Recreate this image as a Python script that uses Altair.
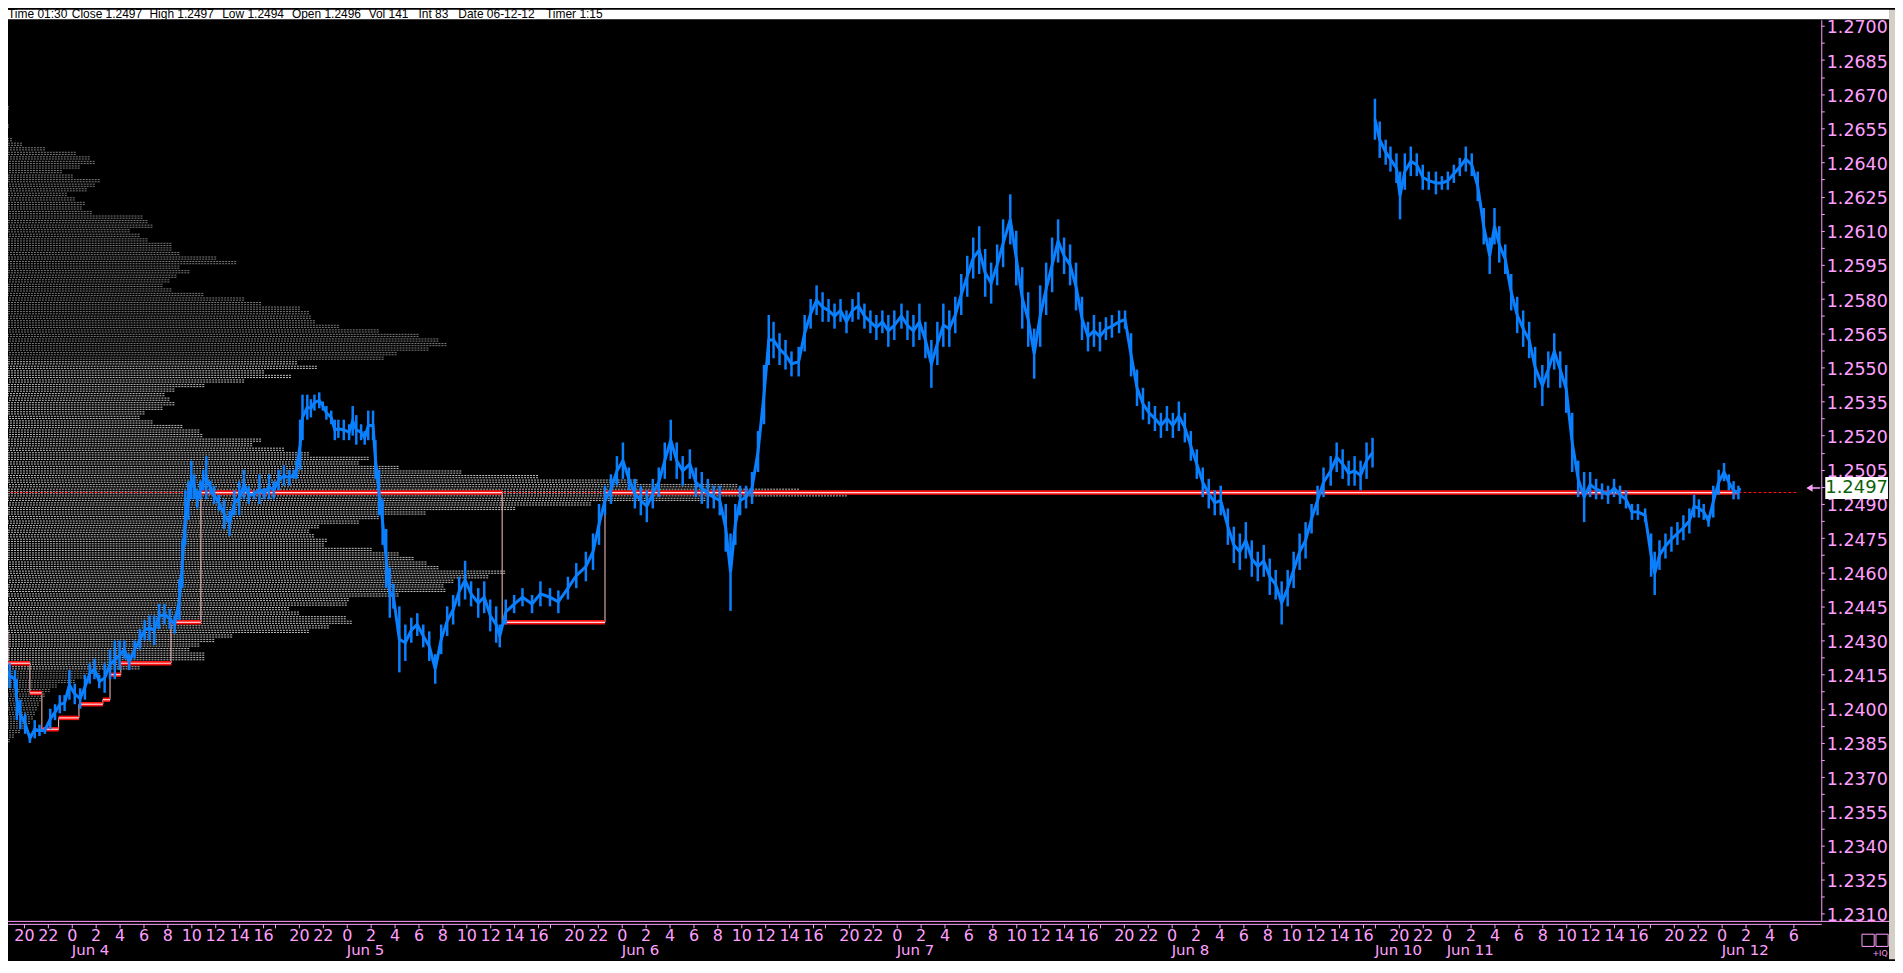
import json
import altair as alt
import pandas as pd

# ------------------------------------------------------------------ data
# price series: bar position in session hours (17:00-18:00 break removed), low / high
price_t = [0.2,0.4,0.8,1.25,1.4,1.7,2.1,2.5,2.9,3.3,3.75,4.2,4.6,5.0,5.4,5.8,6.25,6.7,7.1,7.5,7.9,8.3,8.75,9.2,9.6,10.0,10.4,10.8,11.25,11.7,12.1,12.5,12.9,13.3,13.75,14.2,14.6,15.0,15.25,15.5,15.75,16.0,16.25,16.5,16.75,17.0,17.25,17.6,17.9,18.3,18.75,19.2,19.6,20.0,20.4,20.8,21.25,21.7,22.1,22.5,22.9,23.3,23.75,24.2,24.6,24.8,25.1,25.3,25.7,26.0,26.3,26.7,27.0,27.3,27.7,28.0,28.3,28.75,29.2,29.5,29.8,30.2,30.5,30.8,31.2,31.4,31.7,32.0,32.3,32.6,32.9,33.4,33.9,34.4,34.9,35.4,35.9,36.4,36.9,37.4,37.9,38.4,38.9,39.4,40.0,40.5,41.0,41.5,41.8,42.3,43.0,43.7,44.5,45.2,46.0,46.7,47.5,48.2,49.0,49.6,50.1,50.6,51.1,51.6,52.1,52.6,53.1,53.6,54.1,54.6,55.1,55.6,56.1,56.6,57.1,57.7,58.2,58.7,59.2,59.7,60.2,60.7,61.1,61.5,61.9,62.4,62.9,63.4,63.9,64.3,64.7,65.2,65.7,66.2,66.8,67.3,67.8,68.3,68.8,69.3,69.8,70.3,70.8,71.3,71.8,72.3,72.8,73.3,73.8,74.3,74.8,75.4,75.9,76.4,76.9,77.4,77.9,78.4,78.9,79.4,79.9,80.4,80.9,81.4,81.9,82.4,82.9,83.4,83.9,84.5,85.0,85.5,86.0,86.5,87.0,87.5,88.0,88.5,89.0,89.5,90.0,90.5,91.0,91.5,92.0,92.5,93.0,93.6,94.1,94.6,95.1,95.6,96.1,96.6,97.1,97.6,98.1,98.6,99.1,99.6,100.1,100.6,101.1,101.6,102.1,102.7,103.2,103.7,104.2,104.7,105.2,105.7,106.2,106.7,107.2,107.7,108.2,108.7,109.2,109.7,110.2,110.7,111.3,111.8,112.3,112.8,113.3,113.8,114.3,114.8,115.0,115.4,115.9,116.3,116.8,117.1,117.5,118.0,118.5,119.0,119.5,120.1,120.6,121.1,121.6,122.1,122.6,123.1,123.6,124.1,124.6,125.0,125.4,125.9,126.4,126.9,127.4,127.9,128.4,129.0,129.5,130.0,130.5,131.0,131.5,132.0,132.5,133.0,133.5,134.0,134.5,135.0,135.5,136.0,136.5,137.0,137.6,138.1,138.4,138.8,139.3,139.8,140.3,140.8,141.3,141.7,142.1,142.5,142.9,143.3,143.75,144.2,144.6,145.0,145.4,145.5]
price_lo = [1.2418,1.2413,1.2409,1.2409,1.2395,1.2391,1.2389,1.2385,1.2387,1.2388,1.2389,1.2391,1.2395,1.2398,1.2399,1.2404,1.2402,1.2400,1.2404,1.2411,1.2413,1.2409,1.2407,1.2413,1.2413,1.2417,1.2422,1.2417,1.2422,1.2426,1.2430,1.2430,1.2428,1.2435,1.2437,1.2435,1.2433,1.2439,1.2453,1.2472,1.2483,1.2492,1.2492,1.2488,1.2492,1.2496,1.2492,1.2494,1.2490,1.2487,1.2479,1.2476,1.2485,1.2485,1.2492,1.2490,1.2492,1.2490,1.2492,1.2492,1.2492,1.2496,1.2498,1.2498,1.2501,1.2501,1.2505,1.2518,1.2527,1.2528,1.2531,1.2532,1.2531,1.2527,1.2525,1.2518,1.2519,1.2518,1.2518,1.2520,1.2516,1.2518,1.2516,1.2518,1.2518,1.2501,1.2485,1.2472,1.2453,1.2440,1.2444,1.2416,1.2421,1.2429,1.2432,1.2427,1.2421,1.2411,1.2424,1.2432,1.2437,1.2445,1.2448,1.2445,1.2440,1.2442,1.2434,1.2429,1.2427,1.2437,1.2442,1.2445,1.2442,1.2445,1.2445,1.2442,1.2448,1.2453,1.2456,1.2461,1.2472,1.2485,1.2490,1.2498,1.2501,1.2496,1.2488,1.2485,1.2482,1.2488,1.2493,1.2501,1.2509,1.2501,1.2498,1.2501,1.2493,1.2490,1.2488,1.2488,1.2485,1.2469,1.2443,1.2472,1.2485,1.2488,1.2490,1.2504,1.2525,1.2551,1.2554,1.2551,1.2549,1.2546,1.2546,1.2557,1.2567,1.2573,1.2570,1.2570,1.2567,1.2570,1.2565,1.2570,1.2571,1.2567,1.2565,1.2562,1.2565,1.2559,1.2562,1.2567,1.2562,1.2559,1.2562,1.2554,1.2541,1.2551,1.2559,1.2559,1.2565,1.2573,1.2581,1.2589,1.2591,1.2581,1.2578,1.2586,1.2594,1.2604,1.2586,1.2567,1.2559,1.2545,1.2559,1.2573,1.2583,1.2596,1.2591,1.2586,1.2575,1.2562,1.2557,1.2559,1.2557,1.2562,1.2563,1.2565,1.2567,1.2546,1.2533,1.2527,1.2525,1.2522,1.2519,1.2522,1.2519,1.2522,1.2517,1.2509,1.2501,1.2493,1.2488,1.2485,1.2485,1.2472,1.2464,1.2461,1.2466,1.2458,1.2456,1.2458,1.2450,1.2448,1.2437,1.2445,1.2453,1.2461,1.2466,1.2477,1.2485,1.2493,1.2498,1.2504,1.2501,1.2498,1.2498,1.2496,1.2501,1.2506,1.2650,1.2642,1.2639,1.2636,1.2631,1.2615,1.2628,1.2634,1.2634,1.2628,1.2628,1.2626,1.2628,1.2628,1.2631,1.2634,1.2636,1.2634,1.2623,1.2604,1.2591,1.2604,1.2596,1.2591,1.2575,1.2565,1.2559,1.2554,1.2541,1.2533,1.2541,1.2549,1.2541,1.2530,1.2504,1.2493,1.2482,1.2493,1.2492,1.2492,1.2490,1.2493,1.2490,1.2488,1.2483,1.2483,1.2482,1.2458,1.2450,1.2461,1.2466,1.2469,1.2472,1.2474,1.2477,1.2484,1.2484,1.2483,1.2480,1.2484,1.2494,1.2500,1.2496,1.2492,1.2492,1.2496]
price_hi = [1.2435,1.2423,1.2420,1.2417,1.2413,1.2404,1.2398,1.2389,1.2395,1.2393,1.2392,1.2400,1.2402,1.2406,1.2406,1.2417,1.2411,1.2409,1.2415,1.2420,1.2422,1.2415,1.2420,1.2426,1.2430,1.2430,1.2430,1.2424,1.2430,1.2435,1.2439,1.2441,1.2441,1.2446,1.2446,1.2444,1.2441,1.2457,1.2474,1.2496,1.2500,1.2509,1.2503,1.2496,1.2500,1.2505,1.2511,1.2500,1.2498,1.2494,1.2492,1.2487,1.2496,1.2500,1.2505,1.2498,1.2496,1.2503,1.2497,1.2503,1.2500,1.2505,1.2507,1.2505,1.2505,1.2509,1.2527,1.2538,1.2538,1.2536,1.2538,1.2539,1.2535,1.2533,1.2531,1.2527,1.2527,1.2527,1.2525,1.2533,1.2529,1.2525,1.2522,1.2531,1.2531,1.2518,1.2505,1.2492,1.2479,1.2462,1.2455,1.2445,1.2437,1.2440,1.2442,1.2437,1.2434,1.2424,1.2437,1.2445,1.2450,1.2458,1.2465,1.2456,1.2453,1.2456,1.2448,1.2445,1.2437,1.2448,1.2450,1.2453,1.2450,1.2456,1.2453,1.2452,1.2458,1.2464,1.2469,1.2477,1.2490,1.2498,1.2503,1.2511,1.2517,1.2506,1.2501,1.2498,1.2496,1.2501,1.2506,1.2517,1.2527,1.2517,1.2511,1.2514,1.2506,1.2504,1.2501,1.2498,1.2498,1.2490,1.2477,1.2490,1.2498,1.2498,1.2504,1.2522,1.2551,1.2573,1.2570,1.2565,1.2562,1.2557,1.2559,1.2573,1.2580,1.2586,1.2583,1.2580,1.2578,1.2580,1.2575,1.2580,1.2583,1.2578,1.2575,1.2573,1.2575,1.2573,1.2575,1.2578,1.2575,1.2573,1.2578,1.2570,1.2562,1.2570,1.2578,1.2575,1.2581,1.2591,1.2599,1.2607,1.2612,1.2602,1.2596,1.2604,1.2615,1.2626,1.2610,1.2594,1.2583,1.2567,1.2586,1.2596,1.2607,1.2615,1.2607,1.2604,1.2596,1.2581,1.2570,1.2573,1.2570,1.2572,1.2573,1.2575,1.2575,1.2565,1.2549,1.2541,1.2535,1.2533,1.2530,1.2533,1.2530,1.2535,1.2530,1.2522,1.2514,1.2506,1.2501,1.2496,1.2498,1.2488,1.2480,1.2477,1.2482,1.2474,1.2469,1.2472,1.2466,1.2461,1.2456,1.2461,1.2469,1.2477,1.2482,1.2490,1.2498,1.2506,1.2511,1.2517,1.2514,1.2509,1.2511,1.2509,1.2517,1.2519,1.2668,1.2658,1.2650,1.2647,1.2644,1.2636,1.2644,1.2647,1.2644,1.2639,1.2636,1.2636,1.2634,1.2636,1.2639,1.2642,1.2647,1.2644,1.2636,1.2620,1.2607,1.2620,1.2612,1.2604,1.2591,1.2581,1.2575,1.2570,1.2559,1.2551,1.2557,1.2565,1.2557,1.2551,1.2530,1.2509,1.2504,1.2504,1.2501,1.2499,1.2498,1.2501,1.2498,1.2496,1.2490,1.2490,1.2488,1.2477,1.2469,1.2474,1.2477,1.2480,1.2482,1.2485,1.2488,1.2494,1.2492,1.2490,1.2485,1.2498,1.2505,1.2508,1.2503,1.2500,1.2498,1.2497]
WEEKEND_BREAK = 114.9

# volume profile (relative volume per 0.0002 price level, from 1.2386 upward)
profile_start = 1.2386
profile_step = 0.0002
profile_vol = [10,14,20,27,30,33,35,37,39,41,
               45,50,57,75,85,100,140,172,205,205,
               190,200,215,233,310,330,353,347,300,290,
               348,350,400,447,445,455,490,507,440,428,
               415,400,373,325,328,315,310,320,360,380,
               427,517,593,708,850,802,740,640,540,463,
               400,360,370,310,285,253,262,203,200,183,
               153,140,145,163,175,170,165,175,205,245,
               292,265,318,298,385,398,430,448,440,420,
               380,340,316,312,310,301,262,245,204,172,
               163,170,177,190,180,237,217,180,172,172,
               148,140,130,153,148,143,92,82,85,75,
               67,87,95,100,73,62,80,95,90,76,
               45,22,12,7,6,9,5,8,6,9,
               5,4]
VA_LOW, VA_HIGH = 1.2417, 1.2553

# point of control steps
poc_start = [0.0, 0.67, 2.5, 3.5, 4.9, 6.6, 8.6, 9.2, 10.1, 14.3, 16.8, 42.0, 50.6]
poc_end   = [0.67, 2.5, 3.5, 4.9, 6.6, 8.6, 9.2, 10.1, 14.3, 16.8, 42.0, 50.6, 145.4]
poc_price = [1.2434, 1.2420, 1.2407, 1.2391, 1.2396, 1.2402, 1.2404, 1.2415, 1.2420, 1.2438, 1.2495, 1.2438, 1.2495]
poc_ext = {"x0": 0.0, "x1": 150.25, "p": 1.2495}

last_close = 1.2497

title_parts = ["Time 01:30", "Close 1.2497", "High 1.2497", "Low 1.2494", "Open 1.2496",
               "Vol 141", "Int 83", "Date 06-12-12", "Timer 1:15"]

session_hour_labels = ["", "20", "22", "0", "2", "4", "6", "8", "10", "12", "14", "16"]
date_labels = ["Jun 4", "Jun 5", "Jun 6", "Jun 7", "Jun 8", "Jun 10", "Jun 11", "Jun 12"]
date_pos = [6, 29, 52, 75, 98, 115, 121, 144]

# ------------------------------------------------------------------ layout
# the page margin is 8px, so the svg shows the reference from x=8, y=8 onward
W, H = 1820, 904
PAD = {"left": 0, "top": 10, "right": 74, "bottom": 39}
X_DOMAIN = [8 / 12, 1828 / 12]          # 12 px per session hour
Y_DOMAIN = [1.230704, 1.270271]
title_x = [0, 64, 142, 215, 285, 362, 412, 452, 540]

PINK = "#ffa0ff"
BLUE = "#0a80ff"
RED = "#ff1010"
DARK = "#7a7a7a"
LIGHT = "#c0c0c0"
FONT = "DejaVu Sans"

xs = alt.Scale(domain=X_DOMAIN, nice=False, zero=False)
ys = alt.Scale(domain=Y_DOMAIN, nice=False, zero=False)

hour_ticks, hour_labels = [], []
for s in range(7):
    for j, lab in enumerate(session_hour_labels):
        v = 23 * s + 2 * j
        if 2 <= v <= 150:
            hour_ticks.append(v)
            hour_labels.append(lab)
lab_arr = [""] * 160
for v, lab in zip(hour_ticks, hour_labels):
    lab_arr[v] = lab
x_label_expr = json.dumps(lab_arr) + "[round(datum.value)]"

y_ticks = [round(1.2310 + 0.00075 * i, 5) for i in range(53)]
y_label_expr = "((round(datum.value*20000) - 24620) % 30 == 0) ? format(datum.value, '.4f') : ''"

x_axis = alt.Axis(orient="bottom", values=hour_ticks, labelExpr=x_label_expr, title=None, grid=False,
                  domainColor=PINK, domainWidth=1, tickColor=PINK, tickSize=4, tickWidth=1,
                  labelColor=PINK, labelFont=FONT, labelFontSize=16, labelPadding=12.5,
                  labelBaseline="alphabetic", labelOverlap=False, labelFlush=False, offset=3.5)
y_axis = alt.Axis(orient="right", values=y_ticks, labelExpr=y_label_expr, title=None, grid=False,
                  domainColor=PINK, domainWidth=1, tickColor=PINK, tickSize=3, tickWidth=1,
                  labelColor=PINK, labelFont=FONT, labelFontSize=17.5, labelPadding=2,
                  labelBaseline="middle", labelOffset=2, labelOverlap=False, labelFlush=False)

dummy = pd.DataFrame({"d": [0]})
layers = []

# frame pieces
layers.append(alt.Chart(dummy).mark_rect(color="white").encode(
    x=alt.value(0), x2=alt.value(W + 68), y=alt.value(-10), y2=alt.value(-0.5)))
layers.append(alt.Chart(dummy).mark_rect(color="#d4d0c8").encode(
    x=alt.value(W + 68), x2=alt.value(W + 74), y=alt.value(-10), y2=alt.value(H + 39)))
for part, xv in zip(title_parts, title_x):
    layers.append(alt.Chart(dummy).mark_text(text=part, align="left", baseline="alphabetic",
                                             font="Liberation Sans", fontSize=12, color="black").encode(
        x=alt.value(xv), y=alt.value(-1.5)))

# volume profile
prof_df = pd.DataFrame({
    "price": [round(profile_start + profile_step * i, 4) for i in range(len(profile_vol))],
    "vol": profile_vol,
})
prof_df["shade"] = ["in" if VA_LOW <= p <= VA_HIGH else "out" for p in prof_df["price"]]
prof_enc = dict(
    x=alt.X("vol:Q", scale=alt.Scale(domain=[8, 1828], nice=False, zero=False), axis=None),
    x2=alt.value(0),
    y=alt.Y("price:Q", scale=ys, axis=y_axis),
    color=alt.Color("shade:N", scale=alt.Scale(domain=["in", "out"], range=[LIGHT, DARK]), legend=None),
)
for off in (-1.1, 1.1):
    layers.append(alt.Chart(prof_df).mark_rule(strokeWidth=1, strokeDash=[2, 1], yOffset=off).encode(**prof_enc))

# POC extension (dashed)
ext_df = pd.DataFrame([poc_ext])
layers.append(alt.Chart(ext_df).mark_rule(color=RED, strokeWidth=1, strokeDash=[3, 2]).encode(
    x=alt.X("x0:Q", scale=xs, axis=None), x2="x1:Q", y=alt.Y("p:Q", scale=ys, axis=y_axis)))

# POC steps
poc_df = pd.DataFrame({"start": poc_start, "end": poc_end, "price": poc_price})
con_df = pd.DataFrame({"t": poc_start[1:], "p0": poc_price[:-1], "p1": poc_price[1:]})
layers.append(alt.Chart(con_df).mark_rule(color="#ffc4c4", strokeWidth=1).encode(
    x=alt.X("t:Q", scale=xs, axis=None), y=alt.Y("p0:Q", scale=ys, axis=y_axis), y2="p1:Q"))
layers.append(alt.Chart(poc_df).mark_rule(color=RED, strokeWidth=4.5).encode(
    x=alt.X("start:Q", scale=xs, axis=None), x2="end:Q", y=alt.Y("price:Q", scale=ys, axis=y_axis)))
layers.append(alt.Chart(poc_df).mark_rule(color="#ffd6d6", strokeWidth=1.2).encode(
    x=alt.X("start:Q", scale=xs, axis=None), x2="end:Q", y=alt.Y("price:Q", scale=ys, axis=y_axis)))

# price
price_df = pd.DataFrame({"t": price_t, "lo": price_lo, "hi": price_hi})
layers.append(alt.Chart(price_df).mark_rule(color=BLUE, strokeWidth=2.5).encode(
    x=alt.X("t:Q", scale=xs, axis=x_axis), y=alt.Y("lo:Q", scale=ys, axis=y_axis), y2="hi:Q"))
layers.append(alt.Chart(price_df).transform_calculate(
    mid="(datum.lo + datum.hi) / 2", seg=f"datum.t > {WEEKEND_BREAK} ? 1 : 0"
).mark_line(color=BLUE, strokeWidth=3).encode(
    x=alt.X("t:Q", scale=xs, axis=None), y=alt.Y("mid:Q", scale=ys, axis=y_axis), detail="seg:N"))

# bottom frame line
layers.append(alt.Chart(dummy).mark_rule(color=PINK, strokeWidth=1).encode(
    x=alt.value(0), x2=alt.value(W + 68), y=alt.value(H + 1)))

# date labels
date_df = pd.DataFrame({"label": date_labels, "t": date_pos})
layers.append(alt.Chart(date_df).mark_text(align="left", baseline="alphabetic", font=FONT,
                                           fontSize=15, color=PINK).encode(
    x=alt.X("t:Q", scale=xs, axis=None), y=alt.value(H + 35), text="label:N"))

# last price marker
lp_df = pd.DataFrame({"p": [last_close], "label": [f"{last_close:.4f}"]})
ARROW = "M-1,0L-0.1,-0.55L-0.1,-0.12L1,-0.12L1,0.12L-0.1,0.12L-0.1,0.55Z"
BOX = "M-1,-0.35L1,-0.35L1,0.35L-1,0.35Z"
layers.append(alt.Chart(lp_df).mark_point(shape=ARROW, size=196, filled=True, color=PINK, opacity=1).encode(
    x=alt.value(W - 8), y=alt.Y("p:Q", scale=ys, axis=y_axis)))
layers.append(alt.Chart(lp_df).mark_point(shape=BOX, size=3969, filled=True, color="white", opacity=1,
                                          strokeWidth=0).encode(
    x=alt.value(W + 35.5), y=alt.Y("p:Q", scale=ys, axis=y_axis)))
layers.append(alt.Chart(lp_df).mark_text(align="left", baseline="middle", font=FONT, fontSize=18,
                                         color="#0a620a").encode(
    x=alt.value(W + 4), y=alt.Y("p:Q", scale=ys, axis=y_axis), text="label:N"))

# corner widgets
for xv in (W + 47, W + 61):
    layers.append(alt.Chart(dummy).mark_point(shape="square", size=150, filled=False, color=PINK,
                                              strokeWidth=1, opacity=1).encode(
        x=alt.value(xv), y=alt.value(H + 20)))
layers.append(alt.Chart(dummy).mark_text(text="+IQ", align="center", baseline="alphabetic", font=FONT,
                                         fontSize=8, color=PINK).encode(
    x=alt.value(W + 59), y=alt.value(H + 36)))

chart = alt.layer(*layers).resolve_scale(x="independent").properties(
    width=W, height=H,
    padding=PAD,
    autosize=alt.AutoSizeParams(type="none"),
    background="#000000",
).configure_view(strokeWidth=0, fill="#000000")

chart.save("out.html", embed_options={"renderer": "svg", "actions": False})
